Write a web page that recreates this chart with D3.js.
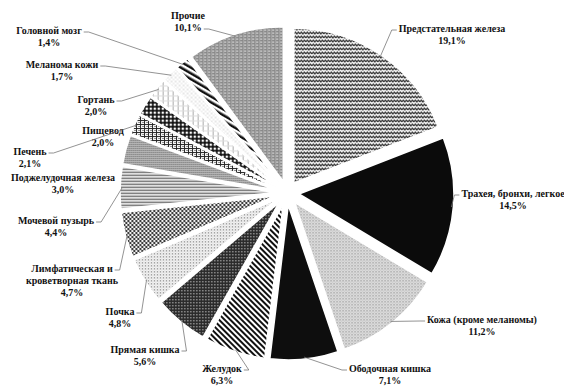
<!DOCTYPE html>
<html><head><meta charset="utf-8">
<script src="https://cdn.jsdelivr.net/npm/d3@7"></script>
<style>html,body{margin:0;padding:0;background:#fff;overflow:hidden}</style>
</head><body><svg id="c" width="564" height="386"></svg>
<script>
// ---- data ----
const categories = [
  "Предстательная железа", "Трахея, бронхи, легкое", "Кожа (кроме меланомы)",
  "Ободочная кишка", "Желудок", "Прямая кишка", "Почка",
  "Лимфатическая  и\nкроветворная ткань", "Мочевой пузырь", "Поджелудочная железа",
  "Печень", "Пищевод", "Гортань", "Меланома кожи", "Головной мозг", "Прочие"
];
const values = [19.1, 14.5, 11.2, 7.1, 6.3, 5.6, 4.8, 4.7, 4.4, 3.0, 2.1, 2.0, 2.0, 1.7, 1.4, 10.1];
const fills = ["prostate","trachea","skin","colon","stomach","rectum","kidney","lymph",
  "bladder","pancreas","liver","esophagus","larynx","melanoma","brain","other"];
// label placement (text centre of first line, side where the leader starts, line used, leader drawn)
const labelLayout = [
  {x:452, y:30,  side:"left",  line:0, leader:true},
  {x:513, y:195, side:"left",  line:0, leader:true},
  {x:482, y:321, side:"left",  line:0, leader:true},
  {x:390, y:370, side:"left",  line:0, leader:true},
  {x:222, y:370, side:"right", line:0, leader:true},
  {x:145, y:351, side:"right", line:0, leader:true},
  {x:120, y:313, side:"right", line:0, leader:true},
  {x:72,  y:270, side:"right", line:0, leader:true},
  {x:56,  y:222, side:"right", line:0, leader:true},
  {x:63,  y:179, side:"right", line:0, leader:false},
  {x:30,  y:153, side:"right", line:0, leader:true},
  {x:103, y:132, side:"right", line:0, leader:false},
  {x:96,  y:101, side:"right", line:0, leader:true},
  {x:62,  y:66,  side:"right", line:0, leader:true},
  {x:49,  y:32,  side:"right", line:0, leader:true},
  {x:188, y:17,  side:"right", line:1, leader:true}
];

const W = 564, H = 386, cx = 287, cy = 193, R = 155, EXPLODE = 12, LH = 12;
const svg = d3.select("#c");
const defs = svg.append("defs");

function pat(id, w, h, bg, items, transform) {
  const p = defs.append("pattern").attr("id", id).attr("patternUnits", "userSpaceOnUse")
    .attr("width", w).attr("height", h);
  if (transform) p.attr("patternTransform", transform);
  p.append("rect").attr("width", w).attr("height", h).attr("fill", bg);
  items.forEach(it => {
    const el = p.append(it[0]);
    Object.entries(it[1]).forEach(([k, v]) => el.attr(k, v));
  });
}
pat("prostate", 6, 4, "#fff", [["path", {d:"M0,3 L1.5,1 L3,3 L4.5,1 L6,3", stroke:"#222", "stroke-width":1.2, fill:"none"}]]);
pat("trachea", 4, 4, "#0b0b0b", []);
pat("skin", 3, 3, "#e2e2e2", [["rect", {x:0,y:0,width:1,height:1,fill:"#777"}], ["rect", {x:1.5,y:1.5,width:1,height:1,fill:"#999"}]]);
pat("colon", 4, 4, "#0e0e0e", []);
pat("stomach", 4, 4, "#fff", [["rect", {x:0,y:0,width:2,height:4,fill:"#111"}]], "rotate(-45)");
pat("rectum", 3, 3, "#2a2a2a", [["rect", {x:1,y:1,width:1.1,height:1.1,fill:"#ddd"}]]);
pat("kidney", 3, 3, "#fff", [["rect", {x:0,y:0,width:1.2,height:1.2,fill:"#666"}], ["rect", {x:1.5,y:1.5,width:1,height:1,fill:"#aaa"}]]);
pat("lymph", 4, 4, "#fff", [["circle", {cx:1,cy:1,r:1.2,fill:"#333"}], ["circle", {cx:3,cy:3,r:1.2,fill:"#333"}]]);
pat("bladder", 4, 3, "#fff", [["rect", {x:0,y:0,width:4,height:1.3,fill:"#555"}]]);
pat("pancreas", 2, 2, "#b8b8b8", [["rect", {x:0,y:0,width:1,height:1,fill:"#666"}]]);
pat("liver", 4, 4, "#fff", [["rect", {x:0,y:0,width:4,height:1,fill:"#222"}], ["rect", {x:0,y:0,width:1,height:4,fill:"#222"}], ["rect", {x:2,y:2,width:2,height:1,fill:"#888"}]]);
pat("esophagus", 4, 4, "#111", [["circle", {cx:2,cy:2,r:1.3,fill:"#fff"}]]);
pat("larynx", 5, 5, "#fff", [["rect", {x:0,y:0,width:1,height:5,fill:"#aaa"}], ["rect", {x:0,y:0,width:5,height:1,fill:"#ddd"}]]);
pat("melanoma", 4, 4, "#fff", [["circle", {cx:1,cy:1,r:0.6,fill:"#999"}], ["circle", {cx:3,cy:3,r:0.6,fill:"#bbb"}]]);
pat("brain", 5, 5, "#fff", [["rect", {x:0,y:0,width:2.5,height:5,fill:"#111"}]], "rotate(-60)");
pat("other", 4, 3, "#8a8a8a", [["rect", {x:1,y:1,width:2,height:1,fill:"#ddd"}], ["rect", {x:0,y:0,width:0.6,height:3,fill:"#bbb"}]]);

const data = categories.map((c, i) => ({name: c, value: values[i], fill: fills[i], lay: labelLayout[i]}));
const pie = d3.pie().value(d => d.value).sort(null);
const arcs = pie(data);
const arc = d3.arc().innerRadius(0).outerRadius(R);

const g = svg.append("g").attr("transform", `translate(${cx},${cy})`);
arcs.forEach(a => {
  const mid = (a.startAngle + a.endAngle) / 2;
  a.dx = EXPLODE * Math.sin(mid);
  a.dy = -EXPLODE * Math.cos(mid);
  a.mid = mid;
});
g.selectAll("path.slice").data(arcs).join("path").attr("class", "slice")
  .attr("transform", d => `translate(${d.dx},${d.dy})`)
  .attr("d", arc)
  .attr("fill", d => `url(#${d.data.fill})`)
  .attr("stroke", "#fff").attr("stroke-width", 1.6).attr("stroke-linejoin", "round");

const fmt = v => d3.format(".1f")(v).replace(".", ",") + "%";
const lab = svg.append("g").attr("font-family", "'Liberation Serif', 'Times New Roman', serif")
  .attr("font-weight", "bold").attr("font-size", 10).attr("fill", "#111");
const leaders = svg.append("g").attr("fill", "none").attr("stroke", "#777").attr("stroke-width", 0.8);

arcs.forEach(a => {
  const L = a.data.lay;
  const lines = a.data.name.split("\n").concat([fmt(a.data.value)]);
  const t = lab.append("text").attr("text-anchor", "middle");
  const spans = lines.map((s, i) => t.append("tspan").attr("x", L.x).attr("y", L.y + i * LH)
    .attr("dominant-baseline", "middle").text(s));
  if (L.leader) {
    const wLine = spans[L.line].node().getComputedTextLength();
    const sy = L.y + L.line * LH;
    const sx = L.side === "right" ? L.x + wLine / 2 + 2 : L.x - wLine / 2 - 2;
    const stub = L.side === "right" ? 5 : -5;
    const ex = cx + a.dx + (R - 2) * Math.sin(a.mid);
    const ey = cy + a.dy - (R - 2) * Math.cos(a.mid);
    leaders.append("path").attr("d", d3.line()([[sx, sy], [sx + stub, sy], [ex, ey]]));
  }
});
</script>
</body></html>
